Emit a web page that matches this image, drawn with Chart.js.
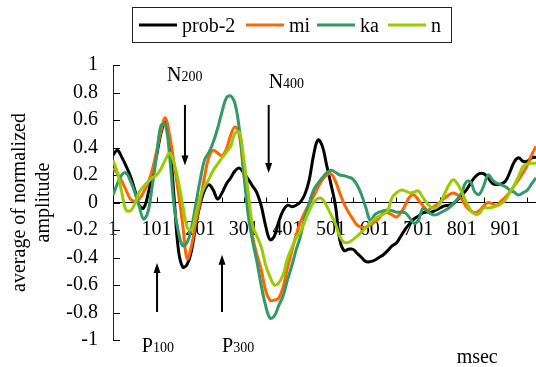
<!DOCTYPE html>
<html><head><meta charset="utf-8">
<script src="https://cdn.jsdelivr.net/npm/chart.js@4.4.1/dist/chart.umd.min.js"></script>
<style>html,body{margin:0;padding:0;background:#fff;}</style>
</head><body>
<canvas id="c" width="536" height="367"></canvas>
<script>
// ---- data ----
const msec = [1,11,21,31,41,51,61,71,81,91,101,111,121,131,141,151,161,171,181,191,
  201,211,221,231,241,251,261,271,281,291,301,311,321,331,341,351,361,371,381,391,
  401,411,421,431,441,451,461,471,481,491,501,511,521,531,541,551,561,571,581,591,
  601,611,621,631,641,651,661,671,681,691,701,711,721,731,741,751,761,771,781,791,
  801,811,821,831,841,851,861,871,881,891,901,911,921,931,941,951,961,971];

const prob2 = [0.345,0.38,0.33,0.265,0.19,0.09,-0.02,-0.04,0.055,0.215,
  0.345,0.505,0.59,0.42,0.04,-0.345,-0.47,-0.45,-0.35,-0.165,
  -0.01,0.09,0.13,0.09,0.025,0.07,0.135,0.18,0.23,0.25,
  0.215,0.17,0.12,0.07,-0.025,-0.17,-0.27,-0.245,-0.14,-0.06,
  -0.02,-0.03,-0.02,0.005,0.06,0.165,0.345,0.455,0.41,0.27,
  0.13,-0.02,-0.27,-0.35,-0.34,-0.34,-0.37,-0.40,-0.43,-0.43,
  -0.42,-0.40,-0.38,-0.35,-0.315,-0.295,-0.245,-0.195,-0.155,-0.12,
  -0.10,-0.075,-0.07,-0.07,-0.055,-0.04,-0.025,-0.02,-0.01,0.02,
  0.055,0.09,0.14,0.185,0.21,0.21,0.18,0.14,0.13,0.135,
  0.155,0.22,0.295,0.325,0.30,0.30,0.325,0.33];

const mi = [0.25,0.21,0.155,0.09,0.025,0.01,0.025,0.075,0.14,0.235,
  0.375,0.52,0.615,0.485,0.285,0.07,-0.165,-0.41,-0.315,-0.14,
  0.01,0.19,0.33,0.38,0.36,0.34,0.39,0.49,0.55,0.485,
  0.2,-0.025,-0.245,-0.38,-0.49,-0.64,-0.71,-0.71,-0.695,-0.615,
  -0.475,-0.355,-0.235,-0.14,-0.07,-0.01,0.045,0.11,0.165,0.2,
  0.21,0.155,0.07,-0.01,-0.07,-0.12,-0.165,-0.18,-0.18,-0.165,
  -0.14,-0.115,-0.075,-0.075,-0.09,-0.105,-0.075,-0.02,0.04,0.055,
  0.02,-0.02,-0.055,-0.04,-0.02,0.005,0.03,0.055,0.07,0.055,
  0.02,-0.03,-0.06,-0.075,-0.06,-0.025,0.0,-0.01,-0.02,0.01,
  0.04,0.075,0.12,0.165,0.215,0.27,0.345,0.41];

const ka = [0.055,0.135,0.2,0.215,0.155,0.075,-0.025,-0.12,-0.07,0.12,
  0.34,0.56,0.57,0.33,-0.02,-0.215,-0.315,-0.29,-0.185,-0.01,
  0.165,0.31,0.365,0.44,0.54,0.66,0.76,0.775,0.715,0.525,
  0.22,-0.09,-0.28,-0.43,-0.605,-0.75,-0.84,-0.825,-0.75,-0.68,
  -0.565,-0.46,-0.345,-0.245,-0.105,-0.005,0.09,0.14,0.18,0.215,
  0.235,0.22,0.2,0.195,0.185,0.17,0.125,0.055,-0.04,-0.13,
  -0.09,-0.07,-0.06,-0.055,-0.06,-0.07,-0.07,-0.075,-0.11,-0.15,
  -0.13,-0.045,-0.06,-0.085,-0.09,-0.075,-0.06,-0.04,-0.01,0.025,
  0.075,0.15,0.15,0.075,0.06,0.12,0.2,0.165,0.14,0.13,
  0.115,0.09,0.075,0.055,0.07,0.09,0.135,0.18];

const n = [0.31,0.22,0.075,-0.055,-0.06,-0.01,0.075,0.115,0.15,0.18,
  0.2,0.245,0.31,0.36,0.285,0.15,-0.02,-0.18,-0.2,-0.085,
  0.04,0.115,0.17,0.235,0.28,0.325,0.365,0.41,0.505,0.51,
  0.31,0.075,-0.165,-0.245,-0.325,-0.455,-0.54,-0.6,-0.585,-0.525,
  -0.41,-0.33,-0.26,-0.21,-0.135,-0.06,0.0,0.03,0.025,-0.025,
  -0.09,-0.155,-0.245,-0.29,-0.29,-0.27,-0.245,-0.215,-0.18,-0.15,
  -0.12,-0.1,-0.085,-0.06,0.035,0.07,0.09,0.085,0.07,0.075,
  0.085,0.04,-0.005,-0.035,-0.04,-0.005,0.06,0.125,0.165,0.135,
  0.075,0.005,-0.055,-0.085,-0.08,-0.04,-0.04,-0.035,-0.025,-0.01,
  0.02,0.075,0.125,0.19,0.26,0.28,0.285,0.285];

const seriesNames = ['prob-2','mi','ka','n'];
const xTickValues = [1,51,101,151,201,251,301,351,401,451,501,551,601,651,701,751,801,851,901,951];
const yTitle = ['average of normalized','amplitude'];
const xTitle = 'msec';

// annotations in data units
const labels = [
  {main:'N', sub:'200', x:125, y:0.884},
  {main:'N', sub:'400', x:358, y:0.833},
  {main:'P', sub:'100', x:67,  y:-1.087},
  {main:'P', sub:'300', x:251, y:-1.087}
];
const arrows = [
  {x:166, from:0.71,   to:0.27},
  {x:358, from:0.71,   to:0.215},
  {x:102, from:-0.796, to:-0.44},
  {x:251, from:-0.796, to:-0.38}
];

// ---- chart ----
const FONT = '"Liberation Serif", "Times New Roman", serif';
Chart.defaults.font.family = FONT;
Chart.defaults.color = '#000';

const colors = ['#000000','#FF6600','#339966','#99CC00'];
const series = [prob2, mi, ka, n];

const datasets = series.map((arr, i) => ({
  label: seriesNames[i],
  data: msec.map((x, j) => ({x: x, y: arr[j]})),
  borderColor: colors[i],
  backgroundColor: colors[i],
  borderWidth: 3,
  pointRadius: 0,
  tension: 0.4,
  fill: false,
  order: series.length - i
}));

const decor = {
  id: 'decor',
  beforeDatasetsDraw(chart) {
    const ctx = chart.ctx, xs = chart.scales.x, ys = chart.scales.y;
    const y0 = ys.getPixelForValue(0);
    const left = chart.chartArea.left;
    ctx.save();
    ctx.strokeStyle = '#000';
    ctx.lineWidth = 1;
    xs.ticks.forEach(t => {
      const px = Math.round(xs.getPixelForValue(t.value)) + 0.5;
      ctx.beginPath(); ctx.moveTo(px, y0); ctx.lineTo(px, y0 - 5); ctx.stroke();
    });
    ys.ticks.forEach(t => {
      const py = Math.round(ys.getPixelForValue(t.value)) + 0.5;
      ctx.beginPath(); ctx.moveTo(left, py); ctx.lineTo(left + 7, py); ctx.stroke();
    });
    ctx.restore();
  },
  afterDraw(chart) {
    const ctx = chart.ctx, xs = chart.scales.x, ys = chart.scales.y;
    ctx.save();
    // legend
    ctx.strokeStyle = '#222';
    ctx.lineWidth = 1;
    ctx.strokeRect(132.5, 7.5, 319, 35);
    const legX = [139, 246, 317, 388];
    ctx.font = '20px ' + FONT;
    ctx.textBaseline = 'alphabetic';
    ctx.textAlign = 'left';
    chart.data.datasets.forEach((ds, i) => {
      ctx.strokeStyle = ds.borderColor;
      ctx.lineWidth = 3;
      ctx.beginPath(); ctx.moveTo(legX[i], 25); ctx.lineTo(legX[i] + 38, 25); ctx.stroke();
      ctx.fillStyle = '#000';
      ctx.fillText(ds.label, legX[i] + 43, 32);
    });
    // arrows
    ctx.strokeStyle = '#000';
    ctx.fillStyle = '#000';
    arrows.forEach(a => {
      const px = xs.getPixelForValue(a.x);
      const p1 = ys.getPixelForValue(a.from);
      const p2 = ys.getPixelForValue(a.to);
      const dir = p2 > p1 ? 1 : -1;
      ctx.lineWidth = 2;
      ctx.beginPath(); ctx.moveTo(px, p1); ctx.lineTo(px, p2 - dir * 6); ctx.stroke();
      ctx.beginPath();
      ctx.moveTo(px, p2);
      ctx.lineTo(px - 3.5, p2 - dir * 10);
      ctx.lineTo(px + 3.5, p2 - dir * 10);
      ctx.closePath(); ctx.fill();
    });
    // component labels
    labels.forEach(l => {
      const px = xs.getPixelForValue(l.x);
      const py = ys.getPixelForValue(l.y);
      ctx.font = '20px ' + FONT;
      ctx.fillText(l.main, px, py);
      const w = ctx.measureText(l.main).width;
      ctx.font = '14px ' + FONT;
      ctx.fillText(l.sub, px + w, py);
    });
    // x title
    ctx.font = '20px ' + FONT;
    ctx.fillText(xTitle, xs.getPixelForValue(789), ys.getPixelForValue(-1.167));
    ctx.restore();
  }
};

new Chart(document.getElementById('c'), {
  type: 'line',
  data: { datasets: datasets },
  options: {
    responsive: false,
    animation: false,
    devicePixelRatio: 1,
    layout: { padding: { top: 65, bottom: 27, left: 0, right: 0 } },
    plugins: { legend: { display: false }, tooltip: { enabled: false } },
    scales: {
      x: {
        type: 'linear',
        position: { y: 0 },
        min: 1, max: 971,
        afterBuildTicks: s => { s.ticks = xTickValues.map(v => ({ value: v })); },
        ticks: {
          autoSkip: false, maxRotation: 0, minRotation: 0, padding: 0,
          font: { size: 20, lineHeight: 2.7 }, color: '#000',
          callback: v => (v % 100 === 1 ? String(v) : '')
        },
        grid: { drawOnChartArea: false, drawTicks: false },
        border: { display: true, color: '#000', width: 1 }
      },
      y: {
        min: -1, max: 1,
        ticks: {
          stepSize: 0.2, padding: 15, font: { size: 20 }, color: '#000',
          callback: v => String(Math.round(v * 10) / 10)
        },
        grid: { drawOnChartArea: false, drawTicks: false },
        border: { display: true, color: '#222', width: 1 },
        title: {
          display: true, text: yTitle, color: '#000',
          font: { size: 20, lineHeight: 1.2 },
          padding: { top: 8, bottom: 0 }
        },
        afterFit: s => { s.width = 113; }
      }
    }
  },
  plugins: [decor]
});
</script>
</body></html>
